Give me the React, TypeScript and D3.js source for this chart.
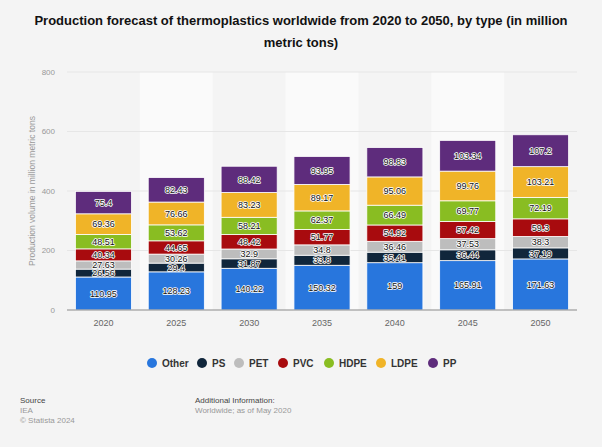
import React from 'react';
import * as d3 from 'd3';

// chart data
const years = ['2020', '2025', '2030', '2035', '2040', '2045', '2050'];
const types = ['Other', 'PS', 'PET', 'PVC', 'HDPE', 'LDPE', 'PP'];
const other = [110.95, 128.23, 140.22, 150.32, 159, 165.91, 171.63];
const ps = [26.56, 29.4, 31.87, 33.8, 35.41, 36.44, 37.19];
const pet = [27.63, 30.26, 32.9, 34.8, 36.46, 37.53, 38.3];
const pvc = [40.34, 44.65, 48.42, 51.77, 54.92, 57.42, 59.3];
const hdpe = [48.51, 53.62, 58.21, 62.37, 66.49, 69.77, 72.19];
const ldpe = [69.36, 76.66, 83.23, 89.17, 95.06, 99.76, 103.21];
const pp = [75.4, 82.43, 88.42, 93.95, 98.83, 103.34, 107.2];
const yTicks = [0, 200, 400, 600, 800];

const colors = ['#2876dd', '#10263b', '#bdbdbd', '#a80b0e', '#89bd22', '#f0b428', '#5e2c7c'];

const W = 602;
const H = 447;
const font = '"Liberation Sans", Arial, sans-serif';

export default function App() {
  const series = [other, ps, pet, pvc, hdpe, ldpe, pp];
  const rows = years.map((year, i) => {
    const row: Record<string, number | string> = { year };
    types.forEach((t, k) => {
      row[t] = series[k][i];
    });
    return row;
  });
  const stacked = d3.stack<any>().keys(types)(rows);

  const x = d3.scaleBand().domain(years).range([67, 577]).paddingInner(0.23).paddingOuter(0.115);
  const y = d3.scaleLinear().domain([0, 800]).range([310, 72]);
  const step = x.step();
  const half = (step * x.paddingInner()) / 2;

  const legendX = [152, 202, 239, 283, 329, 381, 433];

  return (
    <div style={{ position: 'fixed', left: 0, top: 0 }}>
      <svg width={W} height={H} style={{ display: 'block', fontFamily: font }}>
        <rect width={W} height={H} fill="#f4f4f4" />

        {/* title */}
        <text x={W / 2} y={25} textAnchor="middle" fontSize={13} fontWeight="bold" fill="#111">
          Production forecast of thermoplastics worldwide from 2020 to 2050, by type (in million
        </text>
        <text x={W / 2} y={47} textAnchor="middle" fontSize={13} fontWeight="bold" fill="#111">
          metric tons)
        </text>

        {/* alternating column stripes */}
        {years.map((yr, i) =>
          i % 2 === 1 ? (
            <rect key={yr} x={(x(yr) as number) - half} y={y(800)} width={step} height={y(0) - y(800)} fill="#fafafa" />
          ) : null,
        )}

        {/* grid */}
        {yTicks.map((t) => (
          <g key={t}>
            {t > 0 && <line x1={67} x2={577} y1={y(t)} y2={y(t)} stroke="#e6e6e6" strokeWidth={1} />}
            <text x={55} y={y(t)} dy="0.35em" textAnchor="end" fontSize={8} fill="#999">
              {t}
            </text>
          </g>
        ))}

        <text
          transform={`translate(32, ${(y(0) + y(800)) / 2}) rotate(-90)`}
          textAnchor="middle"
          dy="0.35em"
          fontSize={8.5}
          fill="#999">
          Production volume in million metric tons
        </text>

        {/* bars */}
        {stacked.map((s, k) => (
          <g key={s.key}>
            {s.map((d, i) => (
              <rect
                key={years[i]}
                x={x(years[i])}
                y={y(d[1])}
                width={x.bandwidth()}
                height={y(d[0]) - y(d[1])}
                fill={colors[k]}
                stroke="#fff"
                strokeWidth={0.8}
              />
            ))}
          </g>
        ))}

        {/* segment labels */}
        {stacked.map((s) => (
          <g key={`l-${s.key}`}>
            {s.map((d, i) => (
              <text
                key={years[i]}
                x={(x(years[i]) as number) + x.bandwidth() / 2}
                y={(y(d[0]) + y(d[1])) / 2}
                dy="0.35em"
                textAnchor="middle"
                fontSize={9}
                fill="#111"
                stroke="#fff"
                strokeWidth={1.6}
                strokeLinejoin="round"
                paintOrder="stroke">
                {String(d.data[s.key])}
              </text>
            ))}
          </g>
        ))}

        {/* axis line */}
        <line x1={67} x2={577} y1={y(0)} y2={y(0)} stroke="#8a8a8a" strokeWidth={1.2} />

        {years.map((yr) => (
          <text
            key={yr}
            x={(x(yr) as number) + x.bandwidth() / 2}
            y={323}
            dy="0.35em"
            textAnchor="middle"
            fontSize={9}
            fill="#666">
            {yr}
          </text>
        ))}

        {/* legend */}
        {types.map((t, k) => (
          <g key={t}>
            <circle cx={legendX[k]} cy={363} r={5} fill={colors[k]} />
            <text x={legendX[k] + 10} y={363} dy="0.35em" fontSize={10} fontWeight="bold" fill="#333">
              {t}
            </text>
          </g>
        ))}

        {/* footer */}
        <text x={20} y={400} dy="0.35em" fontSize={8} fill="#444">
          Source
        </text>
        <text x={20} y={410} dy="0.35em" fontSize={8} fill="#999">
          IEA
        </text>
        <text x={20} y={420} dy="0.35em" fontSize={8} fill="#999">
          © Statista 2024
        </text>
        <text x={195} y={400} dy="0.35em" fontSize={8} fill="#444">
          Additional Information:
        </text>
        <text x={195} y={410} dy="0.35em" fontSize={8} fill="#999">
          Worldwide; as of May 2020
        </text>
      </svg>
    </div>
  );
}
